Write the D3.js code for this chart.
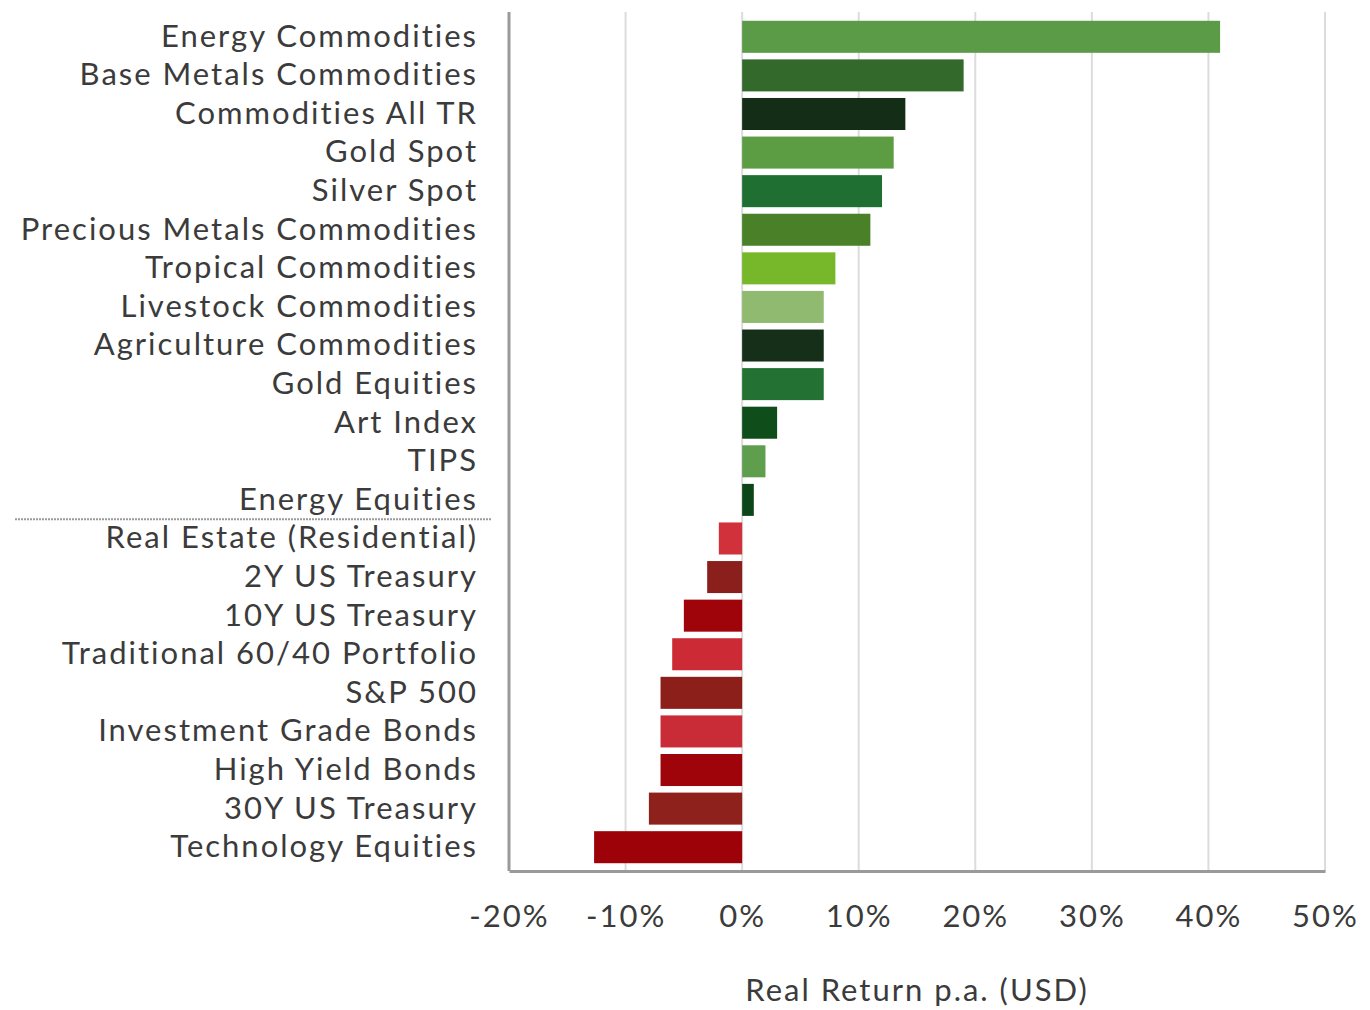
<!DOCTYPE html>
<html>
<head>
<meta charset="utf-8">
<title>Real Return p.a.</title>
<script src="https://cdn.jsdelivr.net/npm/d3@7"></script>
<style>
  body { margin: 0; background: #fff; }
  svg text { font-family: Lato, "Open Sans", sans-serif; fill: #3b3b3b; letter-spacing: 2px; }
</style>
</head>
<body>
<div id="chart"></div>
<script>
// data
var categories = ["Energy Commodities", "Base Metals Commodities", "Commodities All TR", "Gold Spot",
  "Silver Spot", "Precious Metals Commodities", "Tropical Commodities", "Livestock Commodities",
  "Agriculture Commodities", "Gold Equities", "Art Index", "TIPS", "Energy Equities",
  "Real Estate (Residential)", "2Y US Treasury", "10Y US Treasury", "Traditional 60/40 Portfolio",
  "S&P 500", "Investment Grade Bonds", "High Yield Bonds", "30Y US Treasury", "Technology Equities"];
var returns = [41, 19, 14, 13, 12, 11, 8, 7, 7, 7, 3, 2, 1,
  -2, -3, -5, -6, -7, -7, -7, -8, -12.7];
var barColors = ["#5b9a47", "#336a2c", "#132d17", "#5c9d44", "#1f6f33", "#4a8027", "#77b82b", "#8fba6f",
  "#152f19", "#237233", "#0f4d1b", "#5e9e4d", "#0c4618",
  "#d0313b", "#8b1f1b", "#a0040b", "#cc2b36", "#8d1f1a", "#c92c36", "#a0040b", "#8e211c", "#9c0207"];
var tickValues = [-20, -10, 0, 10, 20, 30, 40, 50];
var xTitle = "Real Return p.a. (USD)";

var W = 1370, H = 1010;
var margin = {top: 15, right: 45, bottom: 139, left: 509};
var width = W - margin.left - margin.right,
    height = H - margin.top - margin.bottom;

var svg = d3.select("#chart").append("svg")
    .attr("width", W)
    .attr("height", H);

var g = svg.append("g")
    .attr("transform", "translate(" + margin.left + "," + margin.top + ")");

var x = d3.scaleLinear().domain([-20, 50]).range([0, width]);
var y = d3.scaleBand().domain(categories).range([0, height - 2]).paddingInner(0.17).paddingOuter(0.15);

// vertical gridlines
g.selectAll("line.grid")
    .data(tickValues.slice(1))
    .enter().append("line")
    .attr("class", "grid")
    .attr("x1", function(d) { return x(d); })
    .attr("x2", function(d) { return x(d); })
    .attr("y1", -3)
    .attr("y2", height)
    .attr("stroke", "#dcdcdc")
    .attr("stroke-width", 2);

// bars
g.selectAll("rect.bar")
    .data(categories)
    .enter().append("rect")
    .attr("class", "bar")
    .attr("x", function(d, i) { return x(Math.min(0, returns[i])); })
    .attr("width", function(d, i) { return Math.abs(x(returns[i]) - x(0)); })
    .attr("y", function(d) { return y(d); })
    .attr("height", y.bandwidth())
    .attr("fill", function(d, i) { return barColors[i]; });

// left axis with category labels
var yAxis = g.append("g")
    .call(d3.axisLeft(y).tickSize(0).tickPadding(31));
yAxis.select(".domain").attr("stroke", "#9a9a9a").attr("stroke-width", 3)
    .attr("d", "M0," + (-3) + "V" + height);
yAxis.selectAll("text")
    .attr("font-size", "31px")
    .attr("fill", "#3b3b3b")
    .style("font-family", "Lato, 'Open Sans', sans-serif");

// bottom axis
var xAxis = g.append("g")
    .attr("transform", "translate(0," + height + ")")
    .call(d3.axisBottom(x).tickValues(tickValues).tickSize(0).tickPadding(34)
      .tickFormat(function(d) { return d + "%"; }));
xAxis.select(".domain").attr("stroke", "#9a9a9a").attr("stroke-width", 3);
xAxis.selectAll("text")
    .attr("font-size", "31px")
    .attr("fill", "#3b3b3b")
    .style("font-family", "Lato, 'Open Sans', sans-serif");

// dotted separator between gainers and losers
var sepY = (y(categories[12]) + y.bandwidth() + y(categories[13])) / 2;
g.append("line")
    .attr("x1", 15 - margin.left)
    .attr("x2", 492 - margin.left)
    .attr("y1", sepY)
    .attr("y2", sepY)
    .attr("stroke", "#9a9a9a")
    .attr("stroke-width", 2)
    .attr("stroke-dasharray", "2,1");

// axis title
g.append("text")
    .attr("x", width / 2)
    .attr("y", height + 130)
    .attr("text-anchor", "middle")
    .attr("font-size", "31px")
    .text(xTitle);
</script>
</body>
</html>
